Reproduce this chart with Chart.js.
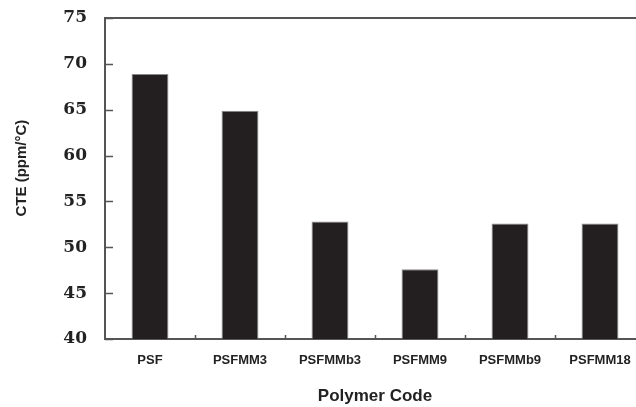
<!DOCTYPE html>
<html>
<head>
<meta charset="utf-8">
<script src="https://cdn.jsdelivr.net/npm/chart.js@4"></script>
<style>
  html, body { margin: 0; padding: 0; background: #fff; }
  #wrap { width: 636px; height: 407px; overflow: hidden; }
</style>
</head>
<body>
<div id="wrap"><canvas id="chart1" width="660" height="407"></canvas></div>
<script>
const polymers = ['PSF', 'PSFMM3', 'PSFMMb3', 'PSFMM9', 'PSFMMb9', 'PSFMM18']
const cteValues = [68.9, 64.9, 52.8, 47.6, 52.6, 52.6]
const yTicks = [40, 45, 50, 55, 60, 65, 70, 75]

const axisColor = '#555'

// ticks pointing into the plot + the top frame line
const innerTicks = {
  id: 'innerTicks',
  afterDraw(chart) {
    const ctx = chart.ctx
    const area = chart.chartArea
    const x = chart.scales.x
    const y = chart.scales.y
    ctx.save()
    ctx.strokeStyle = axisColor
    ctx.lineWidth = 1.5
    ctx.beginPath()
    yTicks.forEach(v => {
      const py = Math.round(y.getPixelForValue(v)) + 0.5
      ctx.moveTo(area.left, py)
      ctx.lineTo(area.left + 8, py)
    })
    for (let i = 0; i < polymers.length - 1; i++) {
      const px = Math.round((x.getPixelForValue(i) + x.getPixelForValue(i + 1)) / 2) + 0.5
      ctx.moveTo(px, area.bottom)
      ctx.lineTo(px, area.bottom - 4)
    }
    ctx.stroke()
    ctx.lineWidth = 2
    ctx.beginPath()
    ctx.moveTo(area.left, area.top)
    ctx.lineTo(area.right, area.top)
    ctx.stroke()
    ctx.restore()
  }
}

new Chart(document.getElementById('chart1'), {
  type: 'bar',
  data: {
    labels: polymers,
    datasets: [{
      label: 'CTE',
      data: cteValues,
      backgroundColor: '#231f20',
      borderColor: '#8a8a8a',
      borderWidth: 1,
      borderSkipped: 'bottom',
      categoryPercentage: 1,
      barPercentage: 0.41
    }]
  },
  options: {
    responsive: false,
    animation: false,
    events: [],
    layout: { padding: { top: 18, right: 15, bottom: 0, left: 0 } },
    plugins: { legend: { display: false }, tooltip: { enabled: false } },
    scales: {
      x: {
        grid: { display: false, drawTicks: true, tickLength: 12 },
        border: { display: true, color: axisColor, width: 2 },
        ticks: {
          padding: 2,
          color: '#222',
          font: { family: 'Liberation Sans', size: 13, weight: 'bold' }
        },
        title: {
          display: true,
          text: 'Polymer Code',
          color: '#222',
          padding: { top: 0, bottom: 0 },
          font: { family: 'Liberation Sans', size: 17, weight: 'bold' }
        },
        afterFit(scale) { scale.height = 68 }
      },
      y: {
        min: 40,
        max: 75,
        grid: { display: false, drawTicks: true, tickLength: 16 },
        border: { display: true, color: axisColor, width: 2 },
        afterBuildTicks(scale) { scale.ticks = yTicks.map(v => ({ value: v })) },
        ticks: {
          padding: 2,
          color: '#222',
          font: { family: 'DejaVu Serif', size: 17, weight: 'bold' }
        },
        title: {
          display: true,
          text: '     CTE (ppm/°C)',
          color: '#222',
          padding: { top: 13, bottom: 0 },
          font: { family: 'Liberation Sans', size: 15, weight: 'bold' }
        },
        afterFit(scale) { scale.width = 105 }
      }
    }
  },
  plugins: [innerTicks]
})
</script>
</body>
</html>
